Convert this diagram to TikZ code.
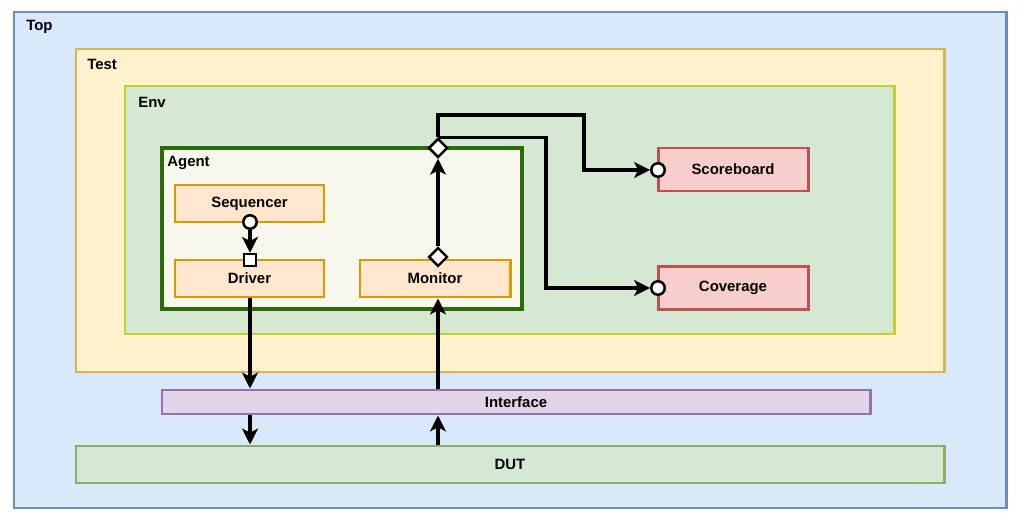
\documentclass[tikz,border=0pt]{standalone}
\usepackage{fontspec}
\setmainfont{Liberation Sans}
\usetikzlibrary{arrows.meta,shapes.geometric,fit}
\definecolor{topfill}{HTML}{DAE8FC}
\definecolor{topdraw}{HTML}{6C8EBF}
\definecolor{testfill}{HTML}{FFF2CC}
\definecolor{testdraw}{HTML}{D6B656}
\definecolor{envfill}{HTML}{D5E8D4}
\definecolor{envdraw}{HTML}{C5D12B}
\definecolor{agentfill}{HTML}{F8F7EC}
\definecolor{agentdraw}{HTML}{2D6A0A}
\definecolor{compfill}{HTML}{FFE6CC}
\definecolor{compdraw}{HTML}{D79B00}
\definecolor{redfill}{HTML}{F8CECC}
\definecolor{reddraw}{HTML}{B85450}
\definecolor{iffill}{HTML}{E1D5E7}
\definecolor{ifdraw}{HTML}{9673A6}
\definecolor{dutfill}{HTML}{D5E8D4}
\definecolor{dutdraw}{HTML}{82B366}
\begin{document}
\begin{tikzpicture}[x=0.02cm,y=-0.02cm,
  every node/.style={font=\fontsize{8.5}{10}\selectfont\bfseries},
  boxstyle/.style={inner sep=0pt, line width=1.7pt},
  pbox/.style 2 args={rectangle, inner sep=0pt, line width=1.7pt, minimum width={#1*0.02cm}, minimum height={#2*0.02cm}},
  lbl/.style={anchor=west, inner sep=0pt},
  conn/.style={line width=1.9pt, -{Stealth[length=9pt,width=9pt,inset=2.2pt]}},
  portc/.style={circle, draw=black, fill=white, line width=1.4pt, minimum size=0.27cm, inner sep=0pt},
  ports/.style={rectangle, draw=black, fill=white, line width=1.1pt, minimum size=0.25cm, inner sep=0pt},
  portd/.style={diamond, draw=black, fill=white, line width=1.4pt, minimum size=0.38cm, inner sep=0pt, aspect=1}]
\useasboundingbox (0,0) rectangle (1024,523);
\fill[white] (0,0) rectangle (1024,523);
% containers
\node[boxstyle, fit={(14,12) (1006,508)}, fill=topfill, draw=topdraw] (top) {};
\node[lbl] (toplbl) at (26,27) {Top};
\node[boxstyle, fit={(76,49) (944,372)}, fill=testfill, draw=testdraw] (test) {};
\node[lbl] (testlbl) at (87,64) {Test};
\node[boxstyle, fit={(125,86) (894,334)}, fill=envfill, draw=envdraw] (env) {};
\node[lbl] (envlbl) at (138,102) {Env};
\node[boxstyle, fit={(162,148) (522,309)}, fill=agentfill, draw=agentdraw, line width=2pt] (agent) {};
\node[lbl] (agentlbl) at (167,163) {Agent};
% components
\node[pbox={149}{37}, fill=compfill, draw=compdraw] (seq) at (249.5,203.5) {Sequencer};
\node[pbox={149}{37}, fill=compfill, draw=compdraw] (drv) at (249.5,278.5) {Driver};
\node[pbox={150}{37}, fill=compfill, draw=compdraw] (mon) at (435,278.5) {Monitor};
\node[pbox={150}{43}, fill=redfill, draw=reddraw] (sb) at (733,169.5) {Scoreboard};
\node[pbox={150}{43}, fill=redfill, draw=reddraw] (cov) at (733,288) {Coverage};
\node[pbox={708}{24}, fill=iffill, draw=ifdraw] (intf) at (516,402) {Interface};
\node[pbox={868}{37}, fill=dutfill, draw=dutdraw] (dut) at (510,464.5) {DUT};
% ports
\node[portc] (seqc) at (250,222) {};
\node[ports] (drvs) at (250,260) {};
\node[portd] (mond) at (438,257) {};
\node[portd] (agd) at (438,148) {};
\node[portc] (sbc) at (658,170) {};
\node[portc] (covc) at (658,288) {};
\coordinate (sbx) at (584,115);
\coordinate (covx) at (546,0);
\coordinate (drvx) at (250,0);
\coordinate (monx) at (438,0);
% connectors
\draw[conn] (seqc.south) -- (drvs.north);
\draw[conn] (drv.south -| drvx) -- (intf.north -| drvx);
\draw[conn] (intf.south -| drvx) -- (dut.north -| drvx);
\draw[conn] (dut.north -| monx) -- (intf.south -| monx);
\draw[conn] (intf.north -| monx) -- (mon.south -| monx);
\draw[conn] (mond.north) -- (agd.south);
\draw[conn] (agd.north) |- (sbx) |- (sbc.west);
\draw[conn] (agd.north) -- (agd.north -| covx) |- (covc.west);
\node[portd] (agd2) at (agd) {};
\end{tikzpicture}
\end{document}
